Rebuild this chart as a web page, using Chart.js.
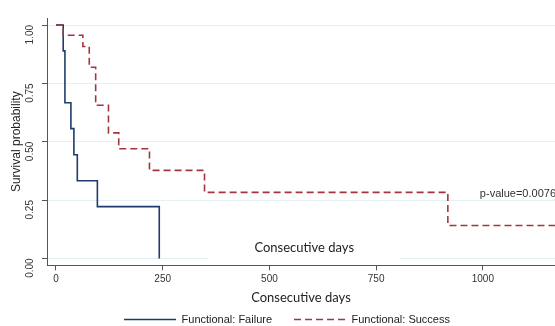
<!DOCTYPE html>
<html>
<head>
<meta charset="utf-8">
<script src="https://cdn.jsdelivr.net/npm/chart.js@4.4.1/dist/chart.umd.min.js"></script>
<style>
    html, body { margin: 0; padding: 0; background: #ffffff; }
    #wrap { width: 555px; height: 326px; }
</style>
</head>
<body>
<div id="wrap"><canvas id="kmChart"></canvas></div>
<script>
// Kaplan-Meier steps (days, survival after the event)
const failureDays = [0, 17, 21, 35, 42, 50, 97, 242];
const failureSurv = [1.0, 0.889, 0.667, 0.556, 0.444, 0.333, 0.222, 0.0];

const successDays = [0, 17, 63, 78, 93, 123, 147, 219, 348, 918, 1250];
const successSurv = [1.0, 0.956, 0.908, 0.819, 0.656, 0.538, 0.470, 0.377, 0.283, 0.141, 0.141];

const xTicks = [0, 250, 500, 750, 1000];
const yTicks = [0, 0.25, 0.5, 0.75, 1.0];

const seriesNames = ["Functional: Failure", "Functional: Success"];
const pValueText = "p-value=0.0076";

function toPoints(xs, ys) {
    return xs.map((x, i) => ({ x: x, y: ys[i] }));
}

const overlayText = {
    id: "overlayText",
    afterLayout(chart) {
        // legend keeps wide item spacing but sits close under the axis title
        const lg = chart.legend;
        lg.top -= 14;
        lg.bottom += 30;
        lg.left += 5;
        lg.right += 5;
    },
    afterDatasetsDraw(chart) {
        const ctx = chart.ctx;
        const xs = chart.scales.x;
        const ys = chart.scales.y;
        ctx.save();
        // stray label box that sits inside the plot
        const x0 = xs.getPixelForValue(357);
        const x1 = xs.getPixelForValue(806);
        const y0 = ys.getPixelForValue(0.125);
        const y1 = ys.getPixelForValue(-0.016);
        ctx.fillStyle = "#ffffff";
        ctx.fillRect(x0, y0, x1 - x0, y1 - y0);
        ctx.fillStyle = "#222222";
        ctx.font = "13px Lato";
        ctx.textAlign = "center";
        ctx.textBaseline = "middle";
        ctx.fillText("Consecutive days", (x0 + x1) / 2, ys.getPixelForValue(0.045));

        ctx.font = "11px 'Liberation Sans'";
        ctx.textAlign = "left";
        ctx.fillStyle = "#333333";
        ctx.fillText(pValueText, xs.getPixelForValue(993), ys.getPixelForValue(0.275));
        ctx.restore();
    }
};

new Chart(document.getElementById("kmChart"), {
    type: "line",
    data: {
        datasets: [
            {
                label: seriesNames[0],
                data: toPoints(failureDays, failureSurv),
                borderColor: "#1d3c6b",
                backgroundColor: "#1d3c6b",
                borderWidth: 1.6,
                stepped: true,
                pointRadius: 0,
                fill: false,
                order: 2
            },
            {
                label: seriesNames[1],
                data: toPoints(successDays, successSurv),
                borderColor: "#a3363c",
                backgroundColor: "#a3363c",
                borderWidth: 1.6,
                borderDash: [7, 4],
                stepped: true,
                pointRadius: 0,
                fill: false,
                order: 1
            }
        ]
    },
    options: {
        responsive: true,
        maintainAspectRatio: false,
        animation: false,
        layout: {
            padding: { top: 17, right: 0, left: 9, bottom: 0 }
        },
        plugins: {
            legend: {
                position: "bottom",
                maxHeight: 20,
                labels: {
                    usePointStyle: true,
                    pointStyle: "line",
                    pointStyleWidth: 52,
                    boxHeight: 11,
                    padding: 22,
                    color: "#222222",
                    font: { family: "'Liberation Sans'", size: 11 },
                    sort: (a, b) => a.datasetIndex - b.datasetIndex,
                    generateLabels: (chart) => {
                        const items = Chart.defaults.plugins.legend.labels.generateLabels(chart);
                        items.forEach(it => {
                            const ds = chart.data.datasets[it.datasetIndex];
                            it.lineDash = ds.borderDash || [];
                            it.lineWidth = 1.5;
                        });
                        return items;
                    }
                }
            },
            tooltip: { enabled: false }
        },
        scales: {
            x: {
                type: "linear",
                min: -21,
                max: 1169,
                afterBuildTicks: (scale) => { scale.ticks = xTicks.map(v => ({ value: v })); },
                grid: {
                    drawOnChartArea: false,
                    drawTicks: true,
                    tickLength: 5,
                    tickColor: "#555555"
                },
                border: { color: "#555555", width: 1 },
                ticks: {
                    color: "#333333",
                    padding: 3,
                    maxRotation: 0,
                    font: { family: "'Liberation Sans'", size: 10 },
                    callback: (v) => String(v)
                },
                title: {
                    display: true,
                    text: "Consecutive days",
                    color: "#222222",
                    font: { family: "Lato", size: 13 },
                    padding: { top: 2, bottom: 0 }
                }
            },
            y: {
                type: "linear",
                min: -0.03,
                max: 1.03,
                afterBuildTicks: (scale) => { scale.ticks = yTicks.map(v => ({ value: v })); },
                afterFit: (scale) => { scale.width = 38; },
                grid: {
                    color: "#e6eff1",
                    lineWidth: 1,
                    drawTicks: true,
                    tickLength: 5,
                    tickColor: "#555555"
                },
                border: { color: "#555555", width: 1 },
                ticks: {
                    color: "#333333",
                    padding: 12,
                    minRotation: 90,
                    maxRotation: 90,
                    font: { family: "'Liberation Sans'", size: 10 },
                    callback: (v) => v.toFixed(2)
                },
                title: {
                    display: true,
                    text: "Survival probability",
                    color: "#222222",
                    font: { family: "'Liberation Sans'", size: 12 },
                    padding: { top: 0, bottom: 0 }
                }
            }
        }
    },
    plugins: [overlayText]
});
</script>
</body>
</html>
